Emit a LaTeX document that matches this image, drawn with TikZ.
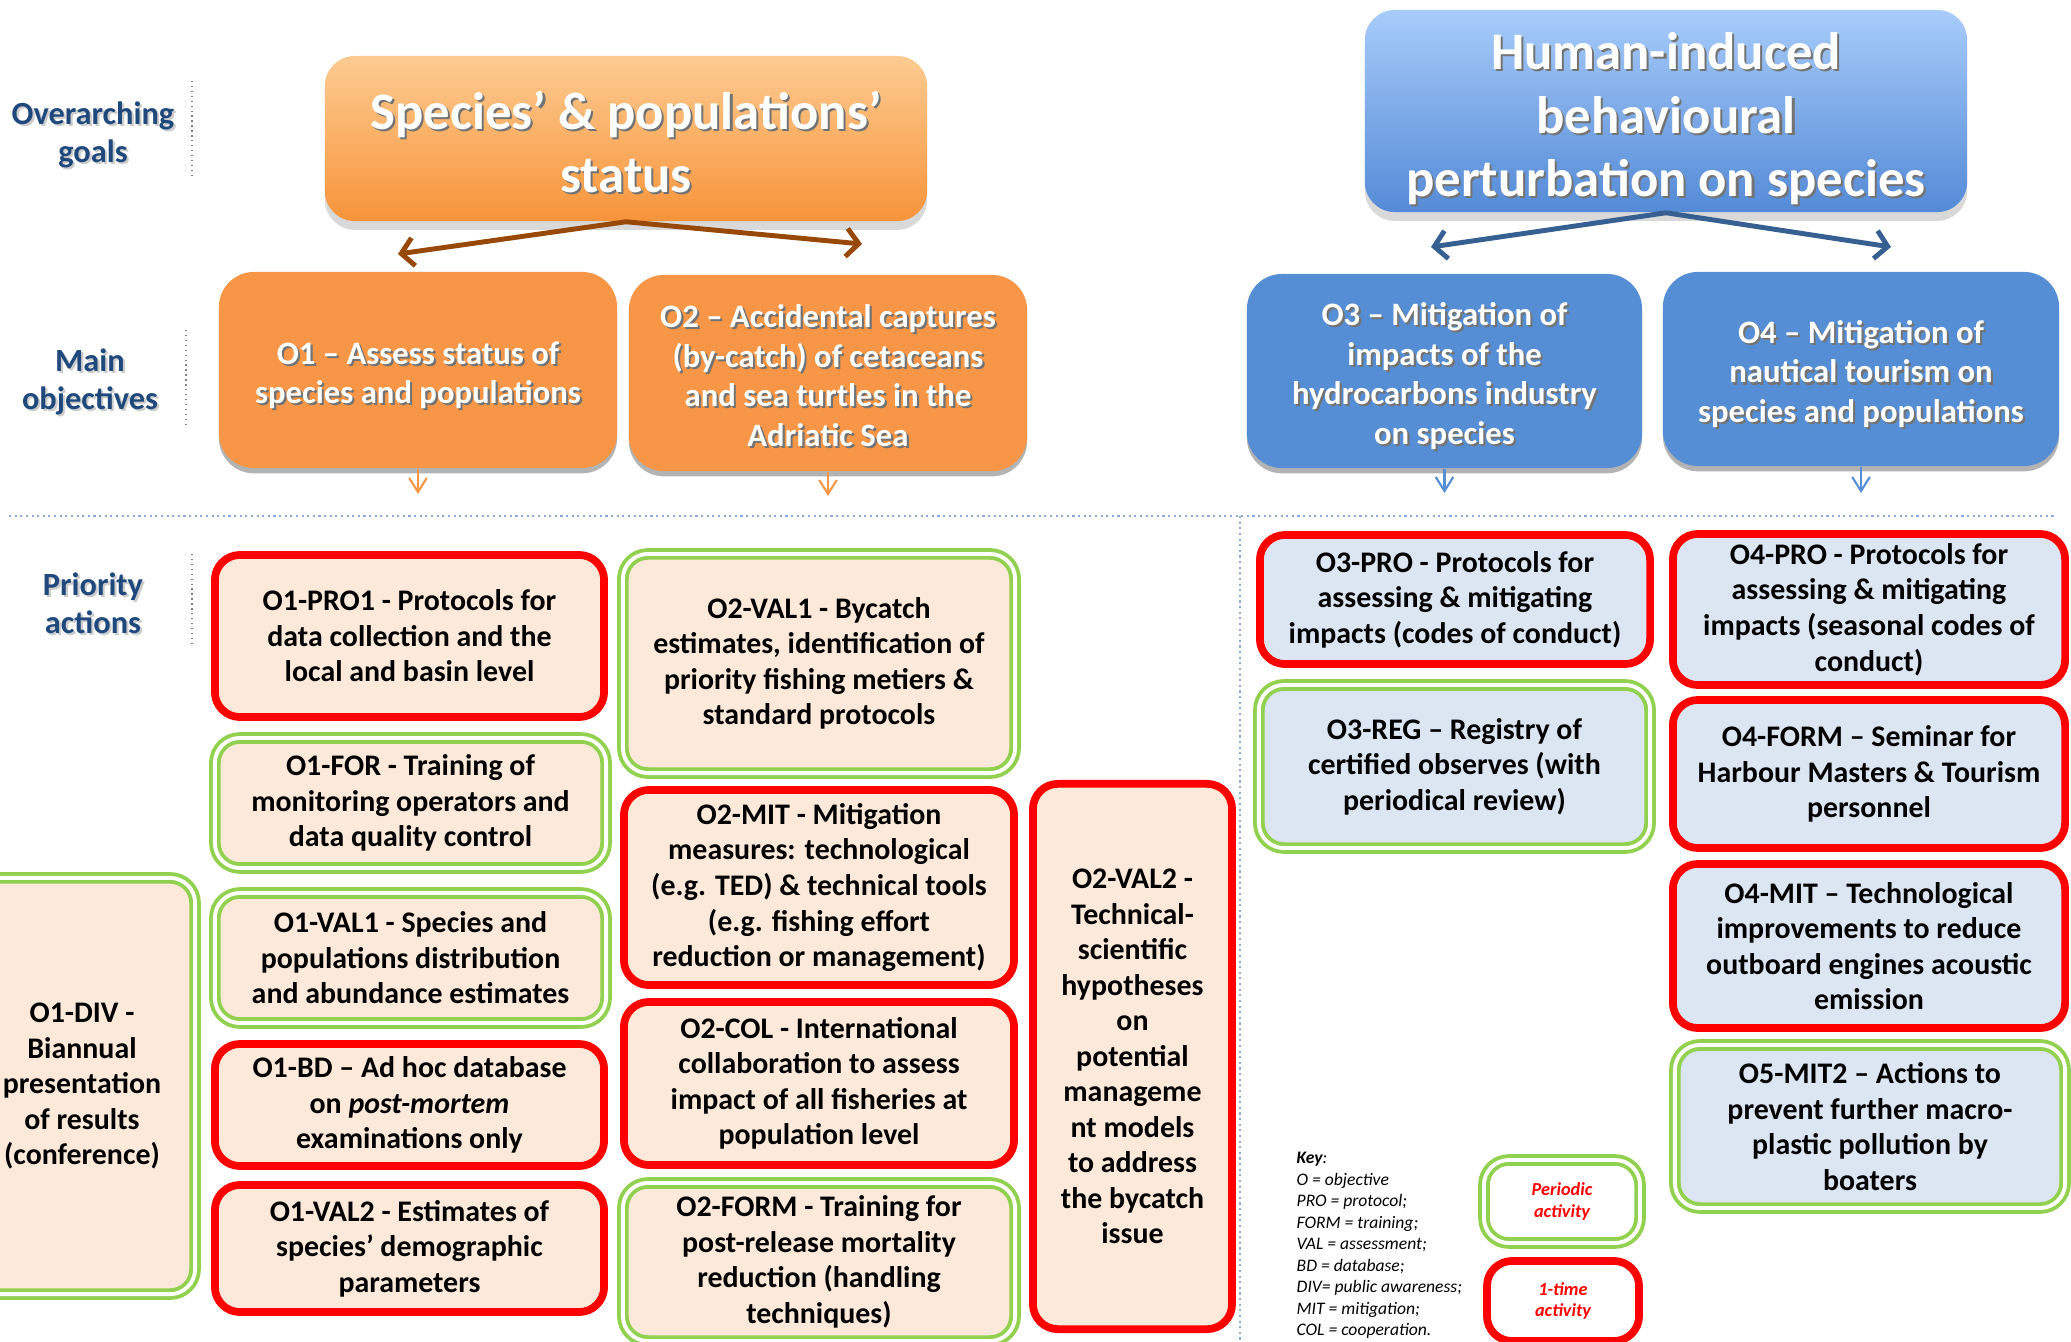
\documentclass[tikz,border=0pt]{standalone}
\usepackage{fontspec}
\setmainfont{Carlito}
\usetikzlibrary{arrows.meta,shadows}

\definecolor{goaltop}{RGB}{252,203,145}
\definecolor{goalbot}{RGB}{247,148,58}
\definecolor{bluetop}{RGB}{168,204,250}
\definecolor{bluebot}{RGB}{84,138,214}
\definecolor{objorange}{RGB}{247,150,70}
\definecolor{objblue}{RGB}{85,142,213}
\definecolor{peach}{RGB}{253,233,217}
\definecolor{paleblue}{RGB}{220,230,242}
\definecolor{actred}{RGB}{255,0,0}
\definecolor{actgreen}{RGB}{146,208,80}
\definecolor{arrbrown}{RGB}{152,72,7}
\definecolor{arrblue}{RGB}{55,96,146}
\definecolor{lblblue}{RGB}{31,73,125}
\definecolor{divblue}{RGB}{142,170,219}

\newcommand{\shadowed}[2][black!55]{\leavevmode\rlap{\kern0.6pt\raisebox{-0.6pt}{\color{#1}\begin{tabular}[b]{@{}c@{}}#2\end{tabular}}}\begin{tabular}[b]{@{}c@{}}#2\end{tabular}}

\begin{document}
\begin{tikzpicture}[x=0.01cm, y=-0.01cm,
    goal/.style={rounded corners=0.3cm, text=white, align=center, inner sep=0pt, text depth=0pt,
      font=\bfseries\fontsize{15}{18}\selectfont,
      drop shadow={shadow xshift=0pt, shadow yshift=-2.5pt, opacity=0.3}},
    obj/.style={rounded corners=0.35cm, text=white, align=center, inner sep=0pt, text depth=0pt,
      font=\bfseries\fontsize{9.3}{11.3}\selectfont,
      drop shadow={shadow xshift=0pt, shadow yshift=-1.5pt, fill=gray, opacity=0.6}},
    act/.style={rounded corners=0.25cm, align=center, inner sep=0pt,
      font=\bfseries\fontsize{8.5}{10.1}\selectfont},
    onetime/.style={act, draw=actred, line width=2.2pt},
    periodic/.style={act, draw=actgreen, line width=1.1pt, double=white, double distance=1.1pt},
    lbl/.style={text=lblblue, align=center, text depth=0pt, font=\bfseries\fontsize{9.2}{10.9}\selectfont},
    labelrule/.style={draw=gray, densely dotted, line width=0.4pt},
    divider/.style={draw=divblue, densely dotted, line width=0.6pt},
    goalarrow/.style={line width=1.4pt, -{Straight Barb[length=3.5pt,width=8pt]}},
    downarrow/.style={line width=0.6pt, -{Straight Barb[length=4pt,width=5pt]}},
    keytxt/.style={font=\itshape\fontsize{5}{6.1}\selectfont, align=left, inner sep=0pt}]

    \useasboundingbox (0,0) rectangle (2071,1342);

    \node[lbl] (lblgoal) at (93,130) {\shadowed[black!20]{Overarching\\goals}};
    \node[lbl] (lblobj) at (90,377) {\shadowed[black!20]{Main\\objectives}};
    \node[lbl] (lblact) at (93,601) {\shadowed[black!20]{Priority\\actions}};
    \draw[labelrule] (192,81) -- (192,176);
    \draw[labelrule] (186,330) -- (186,425);
    \draw[labelrule] (192,554) -- (192,646);

    \draw[divider] (9,516) -- (2054,516);
    \draw[divider] (1240,516) -- (1240,1342);

    \node[goal, top color=goaltop, bottom color=goalbot, minimum width=6.02cm, minimum height=1.65cm]
        (goalA) at (626,138.5) {\shadowed{Species’ \& populations’\\status}};
    \node[goal, top color=bluetop, bottom color=bluebot, minimum width=6.02cm, minimum height=2.02cm]
        (goalB) at (1666,111) {\shadowed{Human-induced\\behavioural\\perturbation on species}};

    \node[obj, fill=objorange, minimum width=3.98cm, minimum height=1.96cm] (objA) at (418,370)
        {\shadowed{O1 – Assess status of\\species and populations}};
    \node[obj, fill=objorange, minimum width=3.98cm, minimum height=1.96cm] (objB) at (828,373)
        {\shadowed{O2 – Accidental captures\\(by-catch) of cetaceans\\and sea turtles in the\\Adriatic Sea}};
    \node[obj, fill=objblue, minimum width=3.95cm, minimum height=1.94cm] (objC) at (1444.5,371)
        {\shadowed{O3 – Mitigation of\\impacts of the\\hydrocarbons industry\\on species}};
    \node[obj, fill=objblue, minimum width=3.96cm, minimum height=1.94cm] (objD) at (1861,369)
        {\shadowed{O4 – Mitigation of\\nautical tourism on\\species and populations}};

    \coordinate (brL) at (398,254);
    \coordinate (brR) at (862,244);
    \coordinate (blL) at (1431,247);
    \coordinate (blR) at (1891,247);
    \draw[goalarrow, arrbrown] (goalA.south) -- (brL);
    \draw[goalarrow, arrbrown] (goalA.south) -- (brR);
    \draw[goalarrow, arrblue] (goalB.south) -- (blL);
    \draw[goalarrow, arrblue] (goalB.south) -- (blR);

    \coordinate (dnA) at (418,494);
    \coordinate (dnB) at (828,496);
    \coordinate (dnC) at (1444.5,493);
    \coordinate (dnD) at (1861,493);
    \draw[downarrow, objorange] (objA.south) -- (dnA);
    \draw[downarrow, objorange] (objB.south) -- (dnB);
    \draw[downarrow, objblue] (objC.south) -- (dnC);
    \draw[downarrow, objblue] (objD.south) -- (dnD);

    \node[periodic, fill=peach, minimum width=2.26cm, minimum height=4.16cm] (div) at (82,1086)
        {O1-DIV -\\Biannual\\presentation\\of results\\(conference)};
    \node[onetime, fill=peach, minimum width=3.89cm, minimum height=1.62cm] (pro1) at (409.5,636)
        {O1-PRO1 - Protocols for\\data collection and the\\local and basin level};
    \node[periodic, fill=peach, minimum width=3.91cm, minimum height=1.30cm] (for) at (410.5,803)
        {O1-FOR - Training of\\monitoring operators and\\data quality control};
    \node[periodic, fill=peach, minimum width=3.91cm, minimum height=1.30cm] (val1a) at (410.5,958)
        {O1-VAL1 - Species and\\populations distribution\\and abundance estimates};
    \node[onetime, fill=peach, minimum width=3.89cm, minimum height=1.22cm] (bd) at (409.5,1105)
        {O1-BD – Ad hoc database\\on \textit{post-mortem}\\examinations only};
    \node[onetime, fill=peach, minimum width=3.89cm, minimum height=1.27cm] (val2a) at (409.5,1248.5)
        {O1-VAL2 - Estimates of\\species’ demographic\\parameters};

    \node[periodic, fill=peach, minimum width=3.92cm, minimum height=2.19cm] (val1b) at (819,663.5)
        {O2-VAL1 - Bycatch\\estimates, identification of\\priority fishing metiers \&\\standard protocols};
    \node[onetime, fill=peach, minimum width=3.90cm, minimum height=1.95cm] (mitb) at (819,887.5)
        {O2-MIT - Mitigation\\measures: technological\\(e.g. TED) \& technical tools\\(e.g. fishing effort\\reduction or management)};
    \node[onetime, fill=peach, minimum width=3.90cm, minimum height=1.63cm] (col) at (819,1083.5)
        {O2-COL - International\\collaboration to assess\\impact of all fisheries at\\population level};
    \node[periodic, fill=peach, minimum width=3.92cm, minimum height=1.58cm] (formb) at (819,1262)
        {O2-FORM - Training for\\post-release mortality\\reduction (handling\\techniques)};
    \node[onetime, fill=peach, minimum width=1.99cm, minimum height=5.45cm] (val2b) at (1132.5,1056.5)
        {O2-VAL2 -\\Technical-\\scientific\\hypotheses\\on\\potential\\manageme\\nt models\\to address\\the bycatch\\issue};

    \node[onetime, fill=paleblue, minimum width=3.90cm, minimum height=1.29cm] (proc) at (1455,599.5)
        {O3-PRO - Protocols for\\assessing \& mitigating\\impacts (codes of conduct)};
    \node[periodic, fill=paleblue, minimum width=3.91cm, minimum height=1.63cm] (reg) at (1454.5,766.5)
        {O3-REG – Registry of\\certified observes (with\\periodical review)};
    \node[onetime, fill=paleblue, minimum width=3.92cm, minimum height=1.51cm] (prod) at (1869,609.5)
        {O4-PRO - Protocols for\\assessing \& mitigating\\impacts (seasonal codes of\\conduct)};
    \node[onetime, fill=paleblue, minimum width=3.92cm, minimum height=1.48cm] (formd) at (1869,774)
        {O4-FORM – Seminar for\\Harbour Masters \& Tourism\\personnel};
    \node[onetime, fill=paleblue, minimum width=3.92cm, minimum height=1.64cm] (mitd) at (1869,946)
        {O4-MIT – Technological\\improvements to reduce\\outboard engines acoustic\\emission};
    \node[periodic, fill=paleblue, minimum width=3.90cm, minimum height=1.63cm] (mit2) at (1870,1126.5)
        {O5-MIT2 – Actions to\\prevent further macro-\\plastic pollution by\\boaters};

    \node[keytxt, anchor=west] (key) at (1296,1245.5)
        {\textbf{Key}:\\O = objective\\PRO = protocol;\\FORM = training;\\VAL = assessment;\\BD = database;\\DIV= public awareness;\\MIT = mitigation;\\COL = cooperation.};
    \node[periodic, minimum width=1.56cm, minimum height=0.83cm, text=actred,
        font=\bfseries\itshape\fontsize{5.2}{6.1}\selectfont] (keyper) at (1562,1201.5) {Periodic\\activity};
    \node[onetime, minimum width=1.52cm, minimum height=0.80cm, text=actred,
        font=\bfseries\itshape\fontsize{5.2}{6.1}\selectfont] (keyone) at (1563,1301) {1-time\\activity};
\end{tikzpicture}
\end{document}
